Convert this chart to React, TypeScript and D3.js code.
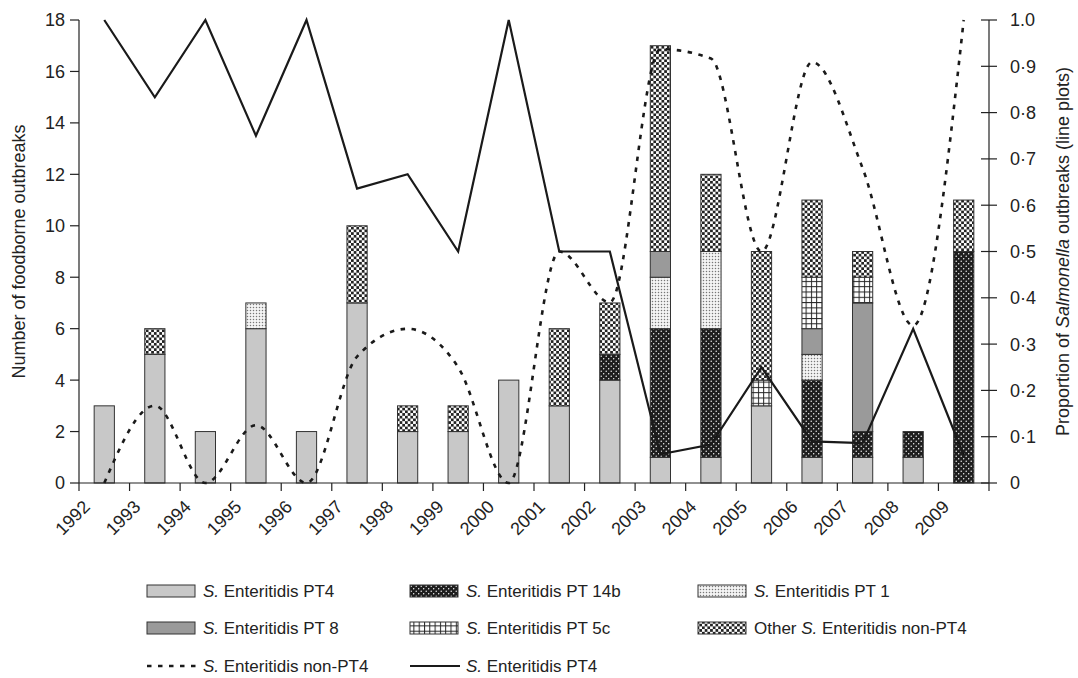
import React from "react";
import * as d3 from "d3";

const years = ["1992","1993","1994","1995","1996","1997","1998","1999","2000","2001","2002","2003","2004","2005","2006","2007","2008","2009"];
const pt4 =   [3,5,2,6,2,7,2,2,4,3,4,1,1,3,1,1,1,0];
const pt14b = [0,0,0,0,0,0,0,0,0,0,1,5,5,0,3,1,1,9];
const pt1 =   [0,0,0,1,0,0,0,0,0,0,0,2,3,0,1,0,0,0];
const pt8 =   [0,0,0,0,0,0,0,0,0,0,0,1,0,0,1,5,0,0];
const pt5c =  [0,0,0,0,0,0,0,0,0,0,0,0,0,1,2,1,0,0];
const other = [0,1,0,0,0,3,1,1,0,3,2,8,3,5,3,1,0,2];

const propPT4 =    [1.0,0.833,1.0,0.75,1.0,0.636,0.667,0.5,1.0,0.5,0.5,0.062,0.083,0.25,0.09,0.086,0.333,0.06];
const propNonPT4 = [0,0.167,0,0.125,0,0.273,0.333,0.25,0,0.5,0.39,0.937,0.917,0.5,0.909,0.68,0.34,1.0];

const leftTicks = [0,2,4,6,8,10,12,14,16,18];
const rightTicks = [0,0.1,0.2,0.3,0.4,0.5,0.6,0.7,0.8,0.9,1.0];
const rightTickLabels = ["0","0·1","0·2","0·3","0·4","0·5","0·6","0·7","0·8","0·9","1.0"];

const seriesKeys = ["pt4","pt14b","pt1","pt8","pt5c","other"];
const seriesData: Record<string, number[]> = { pt4, pt14b, pt1, pt8, pt5c, other };
const fills: Record<string, string> = {
  pt4: "#c8c8c8",
  pt14b: "url(#pPT14b)",
  pt1: "url(#pPT1)",
  pt8: "#9a9a9a",
  pt5c: "url(#pPT5c)",
  other: "url(#pOther)",
};

const FONT = "'Liberation Sans', Arial, Helvetica, sans-serif";

export default function App() {
  const W = 1078, H = 678;
  const x0 = 79, x1 = 989, yTop = 20, yBot = 483;
  const x = d3.scaleBand<string>().domain(years).range([x0, x1]).paddingInner(0.6).paddingOuter(0.3);
  const step = x.step();
  const yL = d3.scaleLinear().domain([0, 18]).range([yBot, yTop]);
  const yR = d3.scaleLinear().domain([0, 1]).range([yBot, yTop]);

  const table = years.map((yr, i) => {
    const o: any = { year: yr };
    seriesKeys.forEach(k => (o[k] = seriesData[k][i]));
    return o;
  });
  const stacked = d3.stack<any>().keys(seriesKeys)(table);

  const cx = (i: number) => (x(years[i]) as number) + x.bandwidth() / 2;
  const solidLine = d3.line<number>().x((d, i) => cx(i)).y(d => yR(d))(propPT4) as string;
  const dashLine = d3.line<number>().x((d, i) => cx(i)).y(d => yR(d)).curve(d3.curveMonotoneX)(propNonPT4) as string;

  const tickXs = d3.range(years.length + 1).map(i => x0 + i * step);

  const legendItems = [
    { key: "pt4", label: " Enteritidis PT4", pre: "S.", col: 0, row: 0 },
    { key: "pt14b", label: " Enteritidis PT 14b", pre: "S.", col: 1, row: 0 },
    { key: "pt1", label: " Enteritidis PT 1", pre: "S.", col: 2, row: 0 },
    { key: "pt8", label: " Enteritidis PT 8", pre: "S.", col: 0, row: 1 },
    { key: "pt5c", label: " Enteritidis PT 5c", pre: "S.", col: 1, row: 1 },
    { key: "other", label: " Enteritidis non-PT4", pre: "S.", col: 2, row: 1, before: "Other " },
  ];
  const colX = [147, 410, 698];
  const rowY = [591, 628, 666];

  return (
    <svg width={W} height={H} style={{ position: "absolute", left: 0, top: 0, background: "#fff" }} fontFamily={FONT}>
      <defs>
        <pattern id="pOther" patternUnits="userSpaceOnUse" width="5.4" height="5.4">
          <rect width="5.4" height="5.4" fill="#fff" />
          <rect width="2.7" height="2.7" fill="#222" />
          <rect x="2.7" y="2.7" width="2.7" height="2.7" fill="#222" />
        </pattern>
        <pattern id="pPT14b" patternUnits="userSpaceOnUse" width="5" height="5">
          <rect width="5" height="5" fill="#1e1e1e" />
          <circle cx="1.2" cy="1.2" r="0.7" fill="#fff" />
          <circle cx="3.7" cy="3.7" r="0.7" fill="#fff" />
        </pattern>
        <pattern id="pPT1" patternUnits="userSpaceOnUse" width="3" height="3">
          <rect width="3" height="3" fill="#f4f4f4" />
          <circle cx="1.5" cy="1.5" r="0.75" fill="#777" />
        </pattern>
        <pattern id="pPT5c" patternUnits="userSpaceOnUse" width="5.3" height="5.3">
          <rect width="5.3" height="5.3" fill="#fff" />
          <rect width="1" height="5.3" fill="#222" />
          <rect width="5.3" height="1" fill="#222" />
        </pattern>
      </defs>

      {/* bars */}
      {stacked.map(layer => (
        <g key={layer.key}>
          {layer.map((d, i) => {
            const h = yL(d[0]) - yL(d[1]);
            if (h <= 0) return null;
            return (
              <rect key={i} x={x(years[i])} y={yL(d[1])} width={x.bandwidth()} height={h}
                fill={fills[layer.key]} stroke="#333" strokeWidth={1} />
            );
          })}
        </g>
      ))}

      {/* axes */}
      <line x1={x0} x2={x0} y1={yTop} y2={yBot} stroke="#222" strokeWidth={1.2} />
      {leftTicks.map(t => (
        <g key={t}>
          <line x1={x0 - 9} x2={x0} y1={yL(t)} y2={yL(t)} stroke="#222" strokeWidth={1.2} />
          <text x={x0 - 14} y={yL(t)} dy="0.36em" textAnchor="end" fontSize={18} fill="#222">{t}</text>
        </g>
      ))}
      <line x1={x0} x2={x1} y1={yBot} y2={yBot} stroke="#222" strokeWidth={1.2} />
      {tickXs.map((tx, i) => (
        <line key={i} x1={tx} x2={tx} y1={yBot} y2={yBot + 8} stroke="#222" strokeWidth={1.2} />
      ))}
      {years.map((yr, i) => (
        <text key={yr} transform={`translate(${tickXs[i] + 12},${508}) rotate(-45)`} textAnchor="end" fontSize={18} fill="#222">{yr}</text>
      ))}
      <line x1={x1} x2={x1} y1={yTop} y2={yBot} stroke="#222" strokeWidth={1.2} />
      {rightTicks.map((t, i) => (
        <g key={i}>
          <line x1={x1 - 8} x2={x1 + 8} y1={yR(t)} y2={yR(t)} stroke="#222" strokeWidth={1.2} />
          <text x={x1 + 21} y={yR(t)} dy="0.36em" textAnchor="start" fontSize={18} fill="#222">{rightTickLabels[i]}</text>
        </g>
      ))}

      {/* lines */}
      <path d={dashLine} fill="none" stroke="#1a1a1a" strokeWidth={2.6} strokeDasharray="4.5,6.5" />
      <path d={solidLine} fill="none" stroke="#1a1a1a" strokeWidth={2.2} strokeLinejoin="miter" />

      {/* axis titles */}
      <text transform={`translate(25,${(yTop + yBot) / 2}) rotate(-90)`} textAnchor="middle" fontSize={18} fill="#222">Number of foodborne outbreaks</text>
      <text transform={`translate(1069,${(yTop + yBot) / 2}) rotate(-90)`} textAnchor="middle" fontSize={18} fill="#222">
        Proportion of <tspan fontStyle="italic">Salmonella</tspan> outbreaks (line plots)
      </text>

      {/* legend */}
      {legendItems.map(it => {
        const lx = colX[it.col], ly = rowY[it.row];
        return (
          <g key={it.key}>
            <rect x={lx} y={ly - 6} width={48} height={12} fill={fills[it.key]} stroke="#333" strokeWidth={1} />
            <text x={lx + 56} y={ly} dy="0.36em" fontSize={17} fill="#222">
              {it.before ? it.before : null}<tspan fontStyle="italic">{it.pre}</tspan>{it.label}
            </text>
          </g>
        );
      })}
      <line x1={colX[0]} x2={colX[0] + 50} y1={rowY[2]} y2={rowY[2]} stroke="#1a1a1a" strokeWidth={2.6} strokeDasharray="4.5,6.5" />
      <text x={colX[0] + 56} y={rowY[2]} dy="0.36em" fontSize={17} fill="#222"><tspan fontStyle="italic">S.</tspan> Enteritidis non-PT4</text>
      <line x1={colX[1]} x2={colX[1] + 50} y1={rowY[2]} y2={rowY[2]} stroke="#1a1a1a" strokeWidth={2.2} />
      <text x={colX[1] + 56} y={rowY[2]} dy="0.36em" fontSize={17} fill="#222"><tspan fontStyle="italic">S.</tspan> Enteritidis PT4</text>
    </svg>
  );
}
